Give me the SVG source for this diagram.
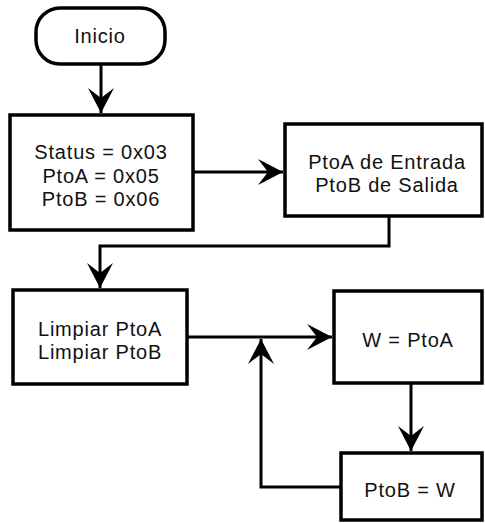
<svg xmlns="http://www.w3.org/2000/svg" width="485" height="523" viewBox="0 0 485 523">
<style>
.box{fill:#fff;stroke:#000;stroke-width:3.5}
.t{font-family:"Liberation Sans",Arial,sans-serif;font-size:20px;fill:#111;text-anchor:middle;letter-spacing:0.8px}
.c{fill:none;stroke:#000;stroke-width:3}
</style>
<defs>
<marker id="ah" viewBox="0 0 26 26" refX="25" refY="13" markerWidth="26" markerHeight="26" markerUnits="userSpaceOnUse" orient="auto">
<path d="M0,0 L25,13 L0,26 L10,13 Z" fill="#000"/>
</marker>
</defs>
<rect width="485" height="523" fill="#fff"/>
<g id="connectors">
<path class="c" d="M101,64 V113" marker-end="url(#ah)"/>
<path class="c" d="M193,172 H283" marker-end="url(#ah)"/>
<path class="c" d="M389,216 V246 H100 V288" marker-end="url(#ah)"/>
<path class="c" d="M187,337 H332" marker-end="url(#ah)"/>
<path class="c" d="M411,383 V451" marker-end="url(#ah)"/>
<path class="c" d="M341,487 H261 V339" marker-end="url(#ah)"/>
</g>
<g id="inicio">
<rect class="box" x="36" y="8" width="129" height="56" rx="24" ry="24"/>
<text class="t" x="100" y="43">Inicio</text>
</g>
<g id="status">
<rect class="box" x="10" y="115" width="183" height="115"/>
<text class="t" x="101" y="159">Status = 0x03</text>
<text class="t" x="101" y="183">PtoA = 0x05</text>
<text class="t" x="101" y="206">PtoB = 0x06</text>
</g>
<g id="puertos">
<rect class="box" x="285" y="124" width="197" height="92"/>
<text class="t" x="387" y="169">PtoA de Entrada</text>
<text class="t" x="387" y="192">PtoB de Salida</text>
</g>
<g id="limpiar">
<rect class="box" x="13" y="290" width="174" height="94"/>
<text class="t" x="100" y="336">Limpiar PtoA</text>
<text class="t" x="100" y="359">Limpiar PtoB</text>
</g>
<g id="w">
<rect class="box" x="334" y="291" width="148" height="92"/>
<text class="t" x="408" y="347">W = PtoA</text>
</g>
<g id="ptob">
<rect class="box" x="341" y="453" width="141" height="67"/>
<text class="t" x="410" y="497">PtoB = W</text>
</g>
</svg>
